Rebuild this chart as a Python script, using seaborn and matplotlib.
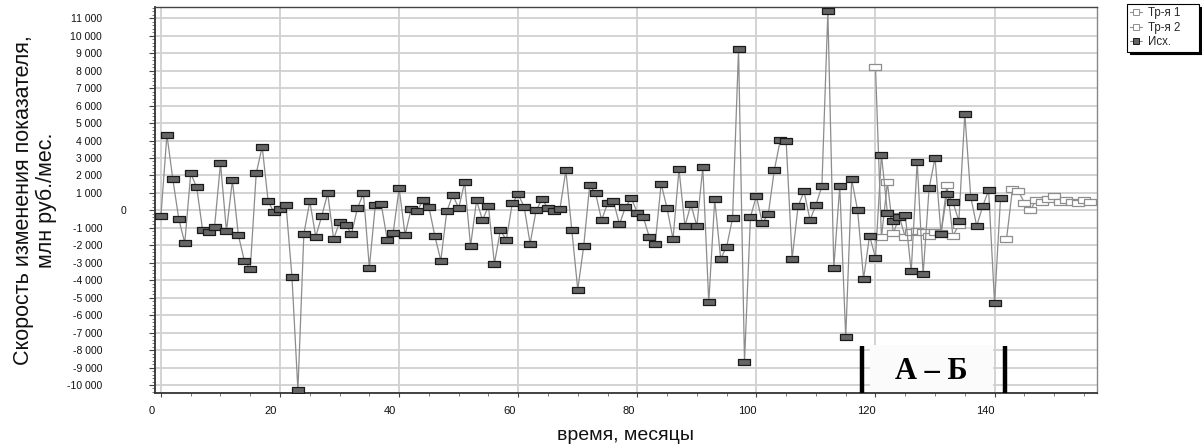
import matplotlib
matplotlib.use("Agg")
import matplotlib.pyplot as plt
import matplotlib.transforms as mtransforms
from matplotlib.path import Path
from matplotlib.lines import Line2D
from matplotlib.patches import Rectangle
from matplotlib.ticker import MultipleLocator, FixedLocator, FuncFormatter
import seaborn as sns
import numpy as np

# ---------------- data ----------------
ish_months = list(range(0, 142))
ish_values = [
    -300, 4330, 1770, -500, -1870, 2120, 1320, -1130, -1240, -950,
    2690, -1180, 1720, -1410, -2880, -3340, 2120, 3650, 520, -110,
    60, 310, -3800, -10300, -1350, 520, -1510, -320, 970, -1640,
    -670, -820, -1350, 130, 970, -3280, 310, 340, -1680, -1280,
    1260, -1410, 60, -60, 570, 190, -1470, -2880, -60, 880,
    130, 1600, -2040, 570, -550, 230, -3050, -1130, -1700, 400,
    920, 190, -1910, 0, 630, 130, -60, 60, 2290, -1130,
    -4540, -2040, 1430, 970, -550, 400, 520, -800, 190, 690,
    -130, -380, -1510, -1910, 1530, 110, -1640, 2350, -900, 340,
    -900, 2460, -5270, 630, -2770, -2080, -440, 9220, -8680, -380,
    820, -730, -210, 2290, 4010, 3950, -2770, 230, 1090, -550,
    310, 1390, 11390, -3280, 1390, -7270, 1770, 0, -3910, -1450,
    -2710, 3200, -150, -610, -380, -270, -3490, 2790, -3660, 1260,
    3020, -1340, 940, 480, -610, 5530, 760, -900, 230, 1150,
    -5320, 710,
]
tr1_months = list(range(120, 135))
tr1_values = [8200, -1550, 1600, -1320, -350, -1540, -1220, -1160, -1220,
              -1450, -1220, -1300, 1450, -1450, -840]
tr2_months = list(range(142, 157))
tr2_values = [-1660, 1230, 1110, 440, 20, 600, 500, 630, 840, 460,
              620, 500, 440, 600, 480]

series_labels = ["Тр-я 1", "Тр-я 2", "Исх."]
y_ticks = list(range(-10000, 11001, 1000))
x_ticks = list(range(0, 141, 20))
x_label = "время, месяцы"
y_label = "Скорость изменения показателя,\nмлн руб./мес."
zone_label = "А – Б"
zone_bounds = [117.8, 141.8]

# ---------------- style ----------------
sns.set_theme(style="white")
plt.rcParams['font.family'] = ['Liberation Sans', 'DejaVu Sans']

W, H = 1202, 444
fig = plt.figure(figsize=(W / 100, H / 100), dpi=100)
ax = fig.add_axes([155 / W, (H - 393) / H, (1097 - 155) / W, (393 - 7.3) / H])

rect = Path([(-1, -0.55), (1, -0.55), (1, 0.55), (-1, 0.55), (-1, -0.55)],
            [Path.MOVETO, Path.LINETO, Path.LINETO, Path.LINETO, Path.CLOSEPOLY])

line_col = '#8c8c8c'
dark_face = '#656565'
dark_edge = '#1a1a1a'
white_edge = '#8e8e8e'

sns.lineplot(x=tr1_months, y=tr1_values, ax=ax, color=line_col, lw=0.9,
             marker=rect, markersize=8.5, markerfacecolor='white',
             markeredgecolor=white_edge, markeredgewidth=0.9, zorder=4)
sns.lineplot(x=tr2_months, y=tr2_values, ax=ax, color=line_col, lw=0.9,
             marker=rect, markersize=8.5, markerfacecolor='white',
             markeredgecolor=white_edge, markeredgewidth=0.9, zorder=4)
sns.lineplot(x=ish_months, y=ish_values, ax=ax, color=line_col, lw=0.9,
             marker=rect, markersize=8.5, markerfacecolor=dark_face,
             markeredgecolor=dark_edge, markeredgewidth=0.9, zorder=5)

ax.set_xlim(-1.0, 157.2)
ax.set_ylim(-10458, 11630)

ax.xaxis.set_major_locator(FixedLocator(x_ticks))
ax.xaxis.set_minor_locator(MultipleLocator(5))
ax.yaxis.set_major_locator(FixedLocator(y_ticks))
ax.yaxis.set_minor_locator(MultipleLocator(200))
ax.yaxis.set_major_formatter(FuncFormatter(lambda v, p: f"{int(round(v)):,}".replace(",", " ")))

ax.grid(True, which='major', color='#d0d0d0', lw=1.3, zorder=0)
ax.set_axisbelow(True)

ax.tick_params(axis='y', which='major', direction='out', length=4, width=0.8,
               color='#444444', labelsize=7.5, pad=34, labelcolor='#111111', left=True)
ax.tick_params(axis='y', which='minor', direction='out', length=2.5, width=0.6,
               color='#666666', left=True)
ax.tick_params(axis='x', which='major', direction='out', length=3, width=0.8,
               color='#444444', labelsize=8, pad=6, labelcolor='#111111', bottom=True)
ax.tick_params(axis='x', which='minor', direction='out', length=2.5, width=0.6,
               color='#666666', bottom=True)

for side, col, lw in [('left', '#333333', 1.3), ('bottom', '#333333', 1.3),
                      ('top', '#444444', 1.0), ('right', '#888888', 1.0)]:
    ax.spines[side].set_visible(True)
    ax.spines[side].set_color(col)
    ax.spines[side].set_linewidth(lw)

ax.set_xlabel(x_label, fontsize=14, color='#111111')
ax.xaxis.set_label_coords(0.499, -0.088)
ax.xaxis.label.set_va('top')
ax.set_ylabel(y_label, fontsize=15.5, color='#111111', linespacing=1.1)
ax.yaxis.set_label_coords(-0.104, 0.50)

# zone A-B annotation
ax.add_patch(Rectangle((119.1, -10420), 20.7, 2700, facecolor='#fbfbfb',
                       edgecolor='none', zorder=3))
ax.vlines(zone_bounds, -10458, -7750, colors='black', lw=3.2, zorder=6)
ax.text(129.4, -9200, zone_label, ha='center', va='center', fontsize=22,
        fontweight='bold', family=['Liberation Serif', 'DejaVu Serif'],
        color='black', zorder=7)

# legend
handles = [
    Line2D([], [], color=line_col, lw=0.8, marker='s', markersize=4,
           markerfacecolor='white', markeredgecolor=white_edge, markeredgewidth=0.7),
    Line2D([], [], color=line_col, lw=0.8, marker='s', markersize=4,
           markerfacecolor='white', markeredgecolor=white_edge, markeredgewidth=0.7),
    Line2D([], [], color=line_col, lw=0.8, marker='s', markersize=4,
           markerfacecolor=dark_face, markeredgecolor=dark_edge, markeredgewidth=0.7),
]
leg = fig.legend(handles, series_labels, loc='upper left',
                 bbox_to_anchor=(1127 / W, 1 - 4 / H, 72 / W, 0.0), mode='expand',
                 fontsize=8.3, frameon=True, fancybox=False, handlelength=1.0,
                 handletextpad=0.5, borderpad=0.3, labelspacing=0.2,
                 borderaxespad=0.0,
                 shadow={'color': 'black', 'alpha': 1.0})
leg.get_frame().set_edgecolor('black')
leg.get_frame().set_linewidth(0.8)

# tick-label offsets as in the reference
fig.canvas.draw()
dx_x = mtransforms.ScaledTranslation(-9 / 100, 0, fig.dpi_scale_trans)
for t in ax.xaxis.get_major_ticks():
    t.label1.set_transform(t.label1.get_transform() + dx_x)
dx_y = mtransforms.ScaledTranslation(24 / 100, 0, fig.dpi_scale_trans)
for t in ax.yaxis.get_major_ticks():
    if abs(t.get_loc()) < 1e-6:
        t.label1.set_transform(t.label1.get_transform() + dx_y)

fig.savefig("out.png", dpi=100)
